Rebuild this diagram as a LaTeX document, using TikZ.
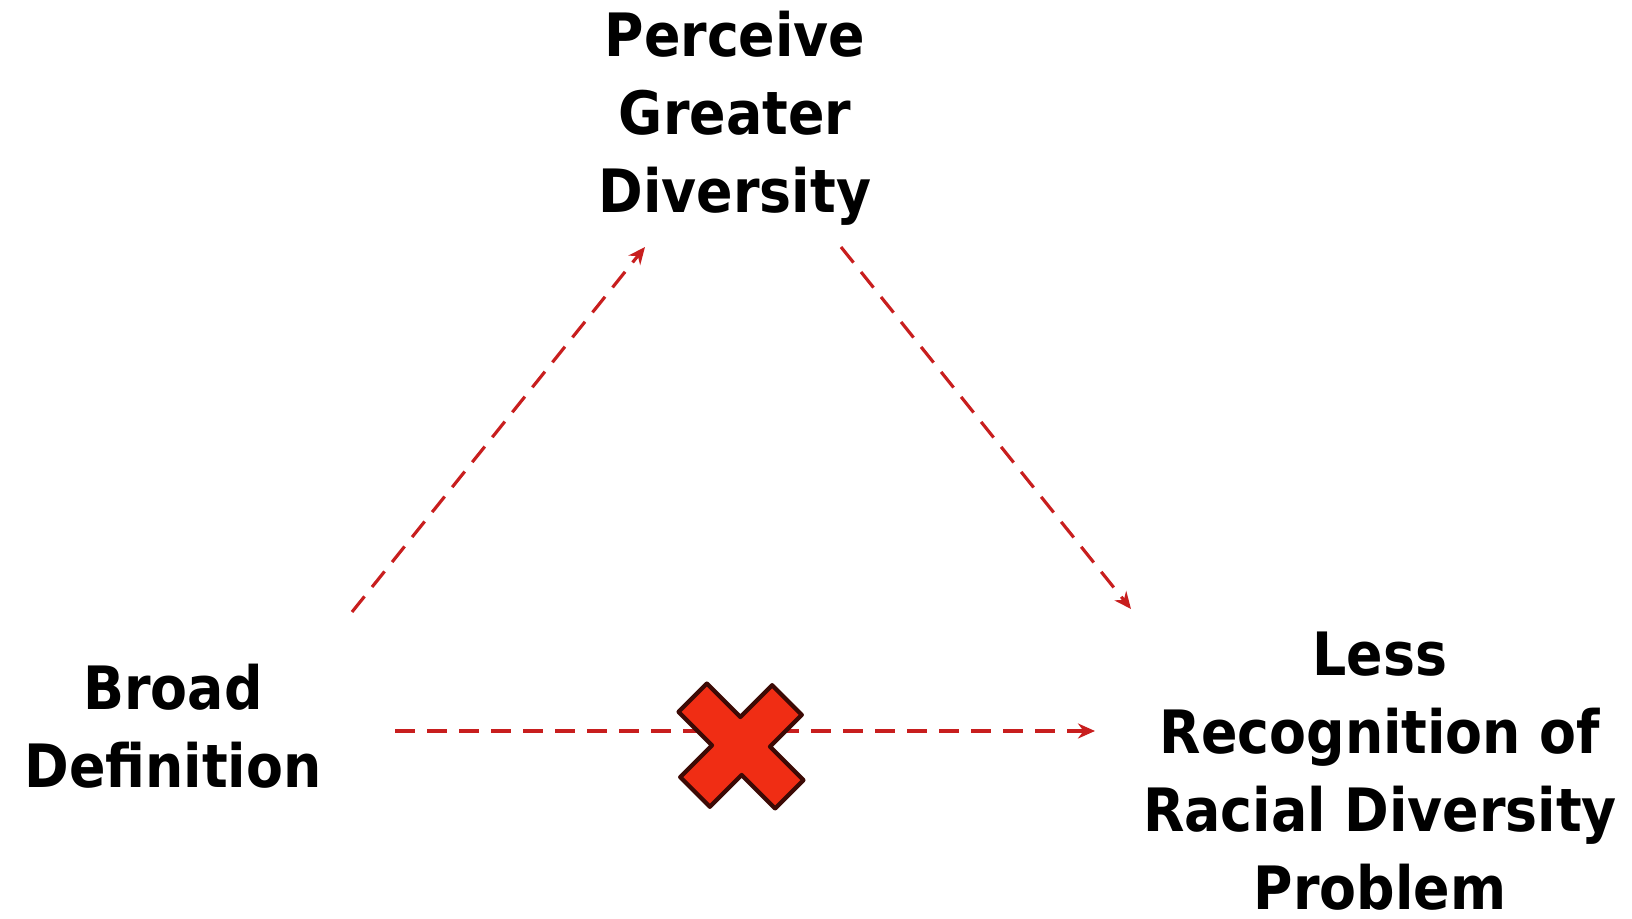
\documentclass[tikz,border=0pt]{standalone}
\usepackage{fontspec}
\setmainfont{DejaVu Sans Condensed}
\usetikzlibrary{arrows.meta}
\definecolor{dashred}{RGB}{200,30,30}
\definecolor{xred}{RGB}{240,45,20}
\definecolor{xedge}{RGB}{60,10,5}
\tikzset{
  lbl/.style={align=center, font=\fontsize{17}{22.2}\selectfont\bfseries, text=black, inner sep=0pt},
  conn/.style={draw=dashred, line width=0.9pt, dash pattern=on 0.2cm off 0.12cm, -{Stealth[length=0.17cm,width=0.15cm]}}
}
\begin{document}
\begin{tikzpicture}[x=0.01cm, y=-0.01cm]
\useasboundingbox (0,0) rectangle (1632,919);
\node[lbl] (perc) at (735,118) {Perceive\\Greater\\Diversity};
\node[lbl] (broad) at (173,726) {Broad\\Definition};
\node[lbl] (less) at (1380,771) {Less\\Recognition of\\Racial Diversity\\Problem};
\draw[conn] ([shift={(179,-114)}]broad.center) -- ([shift={(-90,129)}]perc.center);
\draw[conn] ([shift={(106,129)}]perc.center) -- ([shift={(-249,-162)}]less.center);
\draw[conn] ([shift={(222,5)}]broad.center) -- ([shift={(-285,-40)}]less.center);
\begin{scope}[shift={(741,746)}, rotate=45, yscale=1.05]
\fill[xred, draw=xedge, line width=1.2pt, line join=round]
 (65,20) -- (20,20) -- (20,65) -- (-20,65) -- (-20,20) -- (-65,20) -- (-65,-20) -- (-20,-20) -- (-20,-65) -- (20,-65) -- (20,-20) -- (65,-20) -- cycle;
\end{scope}
\end{tikzpicture}
\end{document}
